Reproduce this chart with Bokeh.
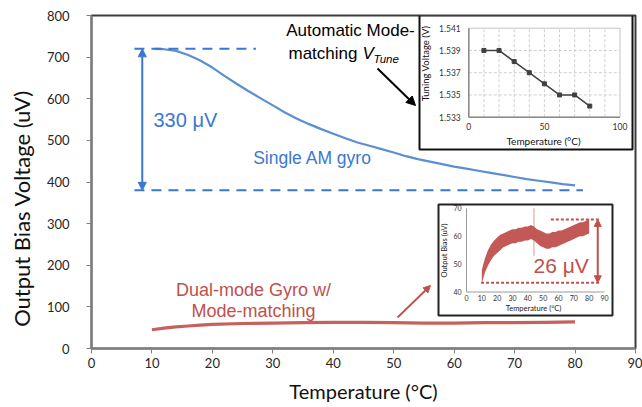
from bokeh.plotting import figure
from bokeh.models import Range1d, Arrow, NormalHead, FixedTicker
from bokeh.embed import file_html
from bokeh.resources import INLINE
from bokeh.core.properties import value

# ---------------- data ----------------
x_ticks = [0, 10, 20, 30, 40, 50, 60, 70, 80, 90]
y_ticks = [0, 100, 200, 300, 400, 500, 600, 700, 800]

am_temp = [10.5, 12, 14, 16, 18, 20, 22, 24, 26, 28, 30, 32, 34, 36, 38, 40, 42, 44, 46, 48,
           50, 52, 54, 56, 58, 60, 62, 64, 66, 68, 70, 72, 74, 76, 78, 80]
am_bias = [720, 719, 715, 705, 692, 675, 655, 636, 618, 601, 584, 567, 552, 539, 527, 516, 505, 495, 487, 479,
           471, 462, 455, 449, 443, 437, 432, 427, 422, 417, 412, 407, 403, 399, 395, 392]

dm_temp = [10, 12, 14, 16, 18, 20, 25, 30, 35, 40, 45, 50, 55, 60, 65, 70, 75, 80]
dm_bias = [45, 49, 52, 54, 56, 58, 60, 61, 62, 63, 63, 62, 61, 61, 62, 62, 63, 64]

tune_temp = [10, 20, 30, 40, 50, 60, 70, 80]
tune_volt = [1.539, 1.539, 1.538, 1.537, 1.536, 1.535, 1.535, 1.534]
tune_xticks = [0, 50, 100]
tune_xlabels = ["0", "50", "100"]
tune_yticks = [1.533, 1.535, 1.537, 1.539, 1.541]
tune_ylabels = ["1.533", "1.535", "1.537", "1.539", "1.541"]
tune_xgrid = [10, 20, 30, 40, 50, 60, 70, 80, 90]
tune_ygrid = [1.535, 1.537, 1.539]

ins_temp = [10, 11, 12, 14, 16, 18, 20, 22, 24, 26, 28, 30, 32, 34, 36, 38, 40, 42, 44,
            46, 48, 50, 52, 54, 56, 58, 60, 62, 64, 66, 68, 70, 72, 74, 76, 78, 80]
ins_upper = [48, 50, 52, 55, 57, 58.5, 59.5, 60.5, 61, 61.5, 62, 62.5, 62.5, 63, 63, 63.5, 63.5, 64, 63.5,
             62.5, 62, 61.5, 61, 61, 61.5, 61.5, 62, 62, 62.5, 63, 63.5, 64, 64.5, 65, 65, 65.5, 66]
ins_lower = [43, 45, 47, 49.5, 51.5, 53, 54, 55, 56, 56.5, 57, 57.5, 57.5, 58, 58, 58.5, 58.5, 59, 58.5,
             57.5, 56.5, 56, 55.5, 55.5, 56, 56, 56.5, 57, 57.5, 58, 58.5, 59, 59.5, 60, 60, 60.5, 61]
spike_temp = [44, 44]
spike_bias = [53, 70]
ins_xticks = [0, 10, 20, 30, 40, 50, 60, 70, 80, 90]
ins_yticks = [40, 50, 60, 70]

# ---------------- layout ----------------
W, H = 642, 407
FL, FR, FT, FB = 91, 635, 15, 348   # frame edges in picture px

BLUE = "#3a78d0"
CURVE_BLUE = "#5b8fd3"
RED = "#c0504d"
SANS = value("Liberation Sans")
CAL = value("Lato")


def span(d0, p0, d1, p1, lo, hi):
    s = (d1 - d0) / (p1 - p0)
    return Range1d(start=d0 + (lo - p0) * s, end=d0 + (hi - p0) * s)


p = figure(width=W, height=H, x_range=Range1d(0, 90), y_range=Range1d(0, 800),
           output_backend="svg", toolbar_location=None,
           min_border_left=FL, min_border_right=W - FR,
           min_border_top=FT, min_border_bottom=H - FB)
p.extra_x_ranges = {
    "px": Range1d(FL, FR),
    "i1x": span(0, 468.3, 100, 619.5, FL, FR),
    "i2x": span(0, 466.0, 90, 604.0, FL, FR),
}
p.extra_y_ranges = {
    "py": Range1d(FB, FT),
    "i1y": span(1.533, 116.7, 1.541, 27.7, FB, FT),
    "i2y": span(40, 291.5, 70, 207.8, FB, FT),
}

p.xgrid.visible = False
p.ygrid.visible = False
p.outline_line_color = "#3c3c3c"
p.outline_line_width = 2
p.background_fill_color = "white"
p.border_fill_color = "white"

p.xaxis.ticker = FixedTicker(ticks=x_ticks)
p.yaxis.ticker = FixedTicker(ticks=y_ticks)
for ax in (p.xaxis[0], p.yaxis[0]):
    ax.axis_line_color = "#808080"
    ax.axis_line_width = 2
    ax.major_tick_line_color = "#808080"
    ax.major_tick_out = 5
    ax.major_tick_in = 0
    ax.minor_tick_out = 0
    ax.minor_tick_in = 0
    ax.major_label_text_font = "Lato"
    ax.major_label_text_font_size = "13px"
    ax.major_label_text_color = "#262626"
    ax.axis_label_text_font = "Lato"
    ax.axis_label_text_font_size = "20px"
    ax.axis_label_text_font_style = "normal"
    ax.axis_label_text_color = "#111111"
p.xaxis.axis_label = "Temperature (°C)"
p.xaxis.major_label_standoff = 4
p.xaxis.axis_label_standoff = 8
p.yaxis.major_label_standoff = 17

PX = dict(x_range_name="px", y_range_name="py")
I1 = dict(x_range_name="i1x", y_range_name="i1y")
I2 = dict(x_range_name="i2x", y_range_name="i2y")

# y axis title (placed lower than frame centre, as in the original)
p.text(x=[21], y=[208], text=["Output Bias Voltage (uV)"], angle=1.5708, text_font=CAL,
       text_font_size="22px", text_color="#111111", text_align="center",
       text_baseline="middle", level="overlay", **PX)

# ---------------- main curves ----------------
p.line(am_temp, am_bias, line_color=CURVE_BLUE, line_width=2.2)
p.line(dm_temp, dm_bias, line_color=RED, line_width=3.2, line_alpha=0.9)

# blue range annotation (main data coords)
p.segment(x0=[7.1, 7.1], y0=[720, 380], x1=[27.2, 81.3], y1=[720, 380],
          line_color=BLUE, line_width=2, line_dash="10 7")
p.add_layout(Arrow(x_start=8.4, y_start=380, x_end=8.4, y_end=720,
                   line_color=BLUE, line_width=2,
                   start=NormalHead(size=8, fill_color=BLUE, line_color=BLUE),
                   end=NormalHead(size=8, fill_color=BLUE, line_color=BLUE)))

p.text(x=[153], y=[119], text=["330 μV"], text_font=SANS, text_font_size="20px",
       text_color=BLUE, text_align="left", text_baseline="middle", **PX)
p.text(x=[312], y=[157], text=["Single AM gyro"], text_font=SANS, text_font_size="17.5px",
       text_color=BLUE, text_align="center", text_baseline="middle", **PX)

p.text(x=[350], y=[30], text=["Automatic Mode-"], text_font=SANS, text_font_size="17px",
       text_color="#000000", text_align="center", text_baseline="middle", **PX)
p.text(x=[288], y=[53], text=["matching"], text_font=SANS, text_font_size="17px",
       text_color="#000000", text_align="left", text_baseline="middle", **PX)
p.text(x=[362], y=[53], text=["V"], text_font=SANS, text_font_size="17px", text_font_style="italic",
       text_color="#000000", text_align="left", text_baseline="middle", **PX)
p.text(x=[373], y=[58], text=["Tune"], text_font=SANS, text_font_size="11.5px", text_font_style="italic",
       text_color="#000000", text_align="left", text_baseline="middle", **PX)
p.add_layout(Arrow(x_start=377, y_start=68, x_end=415, y_end=105, line_color="#000000", line_width=2,
                   end=NormalHead(size=9, fill_color="#000000", line_color="#000000"), **PX))

p.text(x=[253, 253], y=[289, 310], text=["Dual-mode Gyro w/", "Mode-matching"], text_font=SANS,
       text_font_size="18px", text_color=RED, text_align="center", text_baseline="middle", **PX)
p.add_layout(Arrow(x_start=397, y_start=317, x_end=430, y_end=285, line_color=RED, line_width=1.8,
                   end=NormalHead(size=7, fill_color=RED, line_color=RED), **PX))

# ---------------- inset 1: tuning voltage ----------------
p.quad(left=[419], right=[632], top=[15], bottom=[149], fill_color="white",
       line_color="#111111", line_width=2, **PX)
p.quad(left=[0], right=[100], bottom=[1.533], top=[1.541], fill_color=None,
       line_color="#c4c4c4", line_width=1, **I1)
p.segment(x0=tune_xgrid, x1=tune_xgrid, y0=[1.533] * len(tune_xgrid), y1=[1.541] * len(tune_xgrid),
          line_color="#cfcfcf", line_width=1, line_dash="3 2", **I1)
p.segment(x0=[0] * len(tune_ygrid), x1=[100] * len(tune_ygrid), y0=tune_ygrid, y1=tune_ygrid,
          line_color="#cfcfcf", line_width=1, line_dash="3 2", **I1)
p.segment(x0=[0, 0], y0=[1.533, 1.533], x1=[0, 100], y1=[1.541, 1.533],
          line_color="#8a8a8a", line_width=1.5, **I1)
p.text(x=[0] * len(tune_yticks), y=tune_yticks, text=tune_ylabels, x_offset=-8,
       text_font=CAL, text_font_size="8.5px", text_color="#333333", text_align="right",
       text_baseline="middle", **I1)
p.text(x=tune_xticks, y=[1.533] * len(tune_xticks), text=tune_xlabels, y_offset=6,
       text_font=CAL, text_font_size="8.5px", text_color="#333333", text_align="center",
       text_baseline="top", **I1)
p.text(x=[543], y=[140], text=["Temperature (°C)"], text_font=CAL, text_font_size="10px",
       text_color="#111111", text_align="center", text_baseline="middle", **PX)
p.text(x=[425], y=[63], text=["Tuning Voltage (V)"], angle=1.5708, text_font=CAL,
       text_font_size="9.5px", text_color="#111111", text_align="center",
       text_baseline="middle", **PX)
p.line(tune_temp, tune_volt, line_color="#404040", line_width=1.5, **I1)
p.scatter(tune_temp, tune_volt, marker="square", size=4, fill_color="#404040",
          line_color="#404040", **I1)

# ---------------- inset 2: dual-mode bias ----------------
p.quad(left=[438], right=[612], top=[204], bottom=[315], fill_color="white",
       line_color="#222222", line_width=2, **PX)
p.segment(x0=[0, 0], y0=[40, 40], x1=[0, 90], y1=[70, 40],
          line_color="#9a9a9a", line_width=1, **I2)
p.text(x=[0] * len(ins_yticks), y=ins_yticks, text=[str(t) for t in ins_yticks], x_offset=-5,
       text_font=CAL, text_font_size="7px", text_color="#333333", text_align="right",
       text_baseline="middle", **I2)
p.text(x=ins_xticks, y=[40] * len(ins_xticks), text=[str(t) for t in ins_xticks], y_offset=3,
       text_font=CAL, text_font_size="7px", text_color="#333333", text_align="center",
       text_baseline="top", **I2)
p.text(x=[533], y=[308], text=["Temperature (°C)"], text_font=CAL, text_font_size="7.5px",
       text_color="#222222", text_align="center", text_baseline="middle", **PX)
p.text(x=[444], y=[250], text=["Output Bias (uV)"], angle=1.5708, text_font=CAL,
       text_font_size="7.5px", text_color="#222222", text_align="center",
       text_baseline="middle", **PX)
p.varea(x=ins_temp, y1=ins_lower, y2=ins_upper, fill_color=RED, fill_alpha=0.95, **I2)
p.line(spike_temp, spike_bias, line_color=RED, line_width=1, line_alpha=0.6, **I2)
p.segment(x0=[55, 9.5], y0=[66, 43.3], x1=[87, 87], y1=[66, 43.3],
          line_color=RED, line_width=2, line_dash="3 2", **I2)
p.add_layout(Arrow(x_start=85.6, y_start=43.3, x_end=85.6, y_end=66, line_color=RED, line_width=2,
                   start=NormalHead(size=7, fill_color=RED, line_color=RED),
                   end=NormalHead(size=7, fill_color=RED, line_color=RED), **I2))
p.text(x=[61.7], y=[49.4], text=["26 μV"], text_font=SANS, text_font_size="21px",
       text_color=RED, text_align="center", text_baseline="middle", **I2)

open("out.html", "w").write(file_html(p, INLINE))
